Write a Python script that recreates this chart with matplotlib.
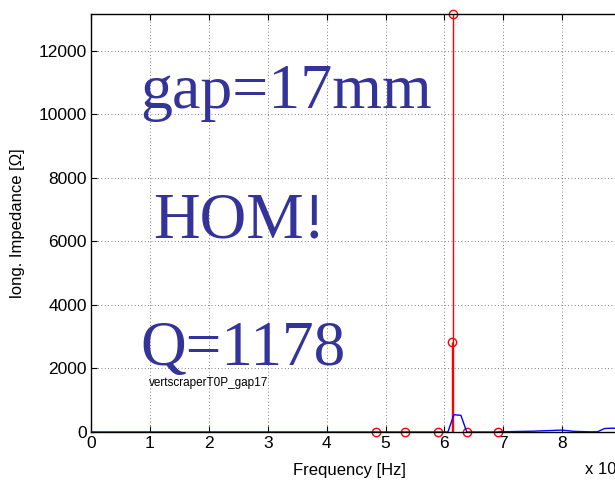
import matplotlib
matplotlib.use("Agg")
import matplotlib.pyplot as plt

# Blue impedance curve (frequency in units of 1e9 Hz, impedance in Ohm)
freq_line = [0.0, 6.0, 6.06, 6.16, 6.28, 6.38, 6.9, 6.97, 7.05, 7.5, 8.0, 8.2, 8.5, 8.6, 8.72, 8.85, 9.0]
imp_line = [0, 0, 0, 545, 525, 0, 0, 15, 10, 25, 60, 20, 5, 10, 110, 120, 110]

# Red stem points (fitted resonance samples)
freq_stem = [4.84, 5.33, 5.89, 6.13, 6.15, 6.38, 6.91]
imp_stem = [0, 0, 0, 2850, 13165, 0, 0]

xticks = [0, 1, 2, 3, 4, 5, 6, 7, 8]
yticks = [0, 2000, 4000, 6000, 8000, 10000, 12000]

W, H = 615, 482
fig = plt.figure(figsize=(W / 100, H / 100), dpi=100)
x0, x1 = 91, 680
y0, y1 = 432, 14
ax = fig.add_axes([x0 / W, (H - y0) / H, (x1 - x0) / W, (y0 - y1) / H])

ax.plot(freq_line, imp_line, color="#0000ff", lw=1.0, zorder=3)
ml, sl, bl = ax.stem(freq_stem, imp_stem, linefmt="r-", markerfmt="o", basefmt=" ")
ml.set_markerfacecolor("none")
ml.set_markeredgecolor("red")
ml.set_markersize(6)
ml.set_markeredgewidth(1.0)
sl.set_linewidth(1.0)
ml.set_clip_on(False)

ax.set_xlim(0, 10)
ax.set_ylim(0, 13165)
ax.set_xticks(xticks)
ax.set_yticks(yticks)
ax.set_xticklabels([str(t) for t in xticks])
ax.set_yticklabels([str(t) for t in yticks])

font = "Liberation Sans"
for lab in ax.get_xticklabels() + ax.get_yticklabels():
    lab.set_family(font)
    lab.set_fontsize(12.5)
ax.tick_params(direction="in", length=4, width=0.8, top=True, right=True, pad=3)
ax.grid(True, color="#555555", linestyle=(0, (1, 3)), linewidth=0.6)
for s in ax.spines.values():
    s.set_linewidth(1.0)

ax.set_xlabel("Frequency [Hz]", family=font, fontsize=12)
ax.xaxis.set_label_coords((349 - x0) / (x1 - x0), -0.075)
ax.set_ylabel("long. Impedance [Ω]", family=font, fontsize=12)
ax.yaxis.set_label_coords(-(x0 - 25) / (x1 - x0), 0.5)

fig.text(585 / W, 1 - 469 / H, "x 10", family=font, fontsize=12, ha="left", va="center")

tcol = "#333399"
fig.text(140 / W, 1 - 108 / H, "gap=17mm", family="Liberation Serif", fontsize=46, color=tcol, ha="left", va="baseline")
fig.text(153 / W, 1 - 237 / H, "HOM!", family="Liberation Serif", fontsize=46.5, color=tcol, ha="left", va="baseline")
fig.text(140 / W, 1 - 365 / H, "Q=1178", family="Liberation Serif", fontsize=45.5, color=tcol, ha="left", va="baseline")
fig.text(149 / W, 1 - 383 / H, "vertscraperT0P_gap17", family=font, fontsize=8.5, color="black", ha="left", va="center")

fig.savefig("out.png", dpi=100)
